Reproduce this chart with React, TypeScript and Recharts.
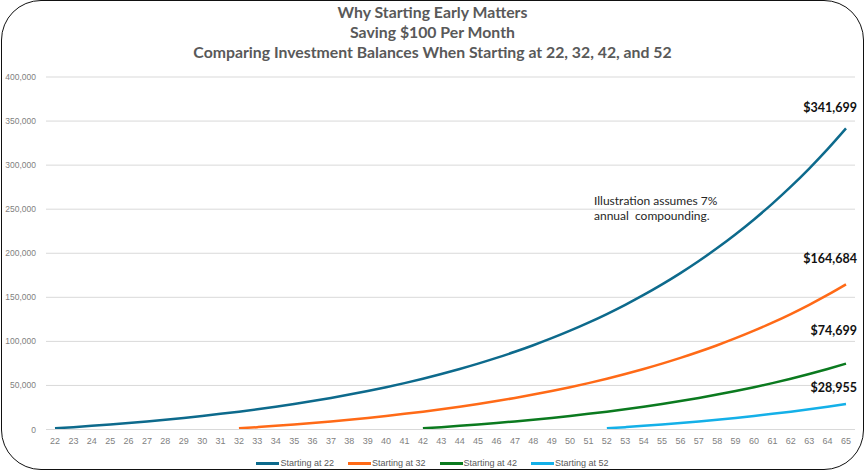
import React from "react";
import { LineChart, Line, XAxis, YAxis, CartesianGrid, Legend } from "recharts";

// Ages shown along the horizontal axis
const ages: number[] = [
  22, 23, 24, 25, 26, 27, 28, 29, 30, 31, 32, 33, 34, 35, 36, 37, 38, 39, 40, 41, 42, 43,
  44, 45, 46, 47, 48, 49, 50, 51, 52, 53, 54, 55, 56, 57, 58, 59, 60, 61, 62, 63, 64, 65,
];

// Year-end balances for each starting age (first entry = first year of saving)
const start22: number[] = [
  1284, 2658, 4128, 5701, 7384, 9185, 11112, 13174, 15380, 17740, 20266, 22969, 25861, 28955,
  32266, 35808, 39599, 43655, 47994, 52638, 57607, 62923, 68612, 74699, 81212, 88181, 95637,
  103616, 112153, 121288, 131062, 141520, 152710, 164684, 177496, 191204, 205874, 221568,
  238363, 256329, 275559, 296132, 318147, 341699,
];
const start32: number[] = [
  1284, 2658, 4128, 5701, 7384, 9185, 11112, 13174, 15380, 17740, 20266, 22969, 25861, 28955,
  32266, 35808, 39599, 43655, 47994, 52638, 57607, 62923, 68612, 74699, 81212, 88181, 95637,
  103616, 112153, 121288, 131062, 141520, 152710, 164684,
];
const start42: number[] = [
  1284, 2658, 4128, 5701, 7384, 9185, 11112, 13174, 15380, 17740, 20266, 22969, 25861, 28955,
  32266, 35808, 39599, 43655, 47994, 52638, 57607, 62923, 68612, 74699,
];
const start52: number[] = [
  1284, 2658, 4128, 5701, 7384, 9185, 11112, 13174, 15380, 17740, 20266, 22969, 25861, 28955,
];

const yTicks: number[] = [0, 50000, 100000, 150000, 200000, 250000, 300000, 350000, 400000];

const titleLines: string[] = [
  "Why Starting Early Matters",
  "Saving $100 Per Month",
  "Comparing Investment Balances When Starting at 22, 32, 42, and 52",
];

const noteLines: string[] = ["Illustration assumes 7%", "annual\u00a0 compounding."];

type SeriesDef = {
  key: string;
  name: string;
  startAge: number;
  values: number[];
  color: string;
  labelDy: number;
};

const series: SeriesDef[] = [
  { key: "s22", name: "Starting at 22", startAge: 22, values: start22, color: "#0d6a8c", labelDy: -16 },
  { key: "s32", name: "Starting at 32", startAge: 32, values: start32, color: "#ff6a17", labelDy: -21 },
  { key: "s42", name: "Starting at 42", startAge: 42, values: start42, color: "#0b7a1f", labelDy: -29 },
  { key: "s52", name: "Starting at 52", startAge: 52, values: start52, color: "#14b0e8", labelDy: -12 },
];

const rows = ages.map((age) => {
  const row: Record<string, number | null> = { age };
  series.forEach((s) => {
    const i = age - s.startAge;
    row[s.key] = i >= 0 && i < s.values.length ? s.values[i] : null;
  });
  return row;
});

const fmt = (v: number) => v.toLocaleString("en-US");

const endLabel = (s: SeriesDef) => (props: any) => {
  const { x, y, index, value } = props;
  if (index !== ages.length - 1 || value == null) return null;
  return (
    <text
      x={x + 11}
      y={y + s.labelDy}
      textAnchor="end"
      fontFamily="Lato, 'Open Sans', sans-serif"
      fontWeight={700}
      fontSize={12.5}
      fill="#111"
    >
      ${fmt(value)}
    </text>
  );
};

const LegendContent = () => (
  <div
    style={{
      display: "flex",
      justifyContent: "center",
      alignItems: "center",
      gap: 14,
      fontFamily: "'Liberation Sans', Arial, sans-serif",
      fontSize: 9,
      color: "#595959",
      height: 14,
      paddingLeft: 10,
    }}
  >
    {series.map((s) => (
      <div key={s.key} style={{ display: "flex", alignItems: "center" }}>
        <span style={{ display: "inline-block", width: 23, height: 3, background: s.color, marginRight: 1 }} />
        <span>{s.name}</span>
      </div>
    ))}
  </div>
);

export default function App() {
  return (
    <div
      style={{
        position: "absolute",
        left: 0,
        top: 0,
        width: 865,
        height: 471,
        background: "#fff",
        overflow: "hidden",
      }}
    >
      <div
        style={{
          position: "absolute",
          left: 0,
          top: 2,
          width: 865,
          textAlign: "center",
          fontFamily: "Lato, 'Open Sans', sans-serif",
          fontWeight: 700,
          fontSize: 15.8,
          lineHeight: "20px",
          color: "#595959",
        }}
      >
        {titleLines.map((t) => (
          <div key={t}>{t}</div>
        ))}
      </div>

      <LineChart
        width={865}
        height={471}
        data={rows}
        margin={{ top: 77, right: 10, bottom: 7.5, left: 0 }}
        style={{ position: "absolute", left: 0, top: 0 }}
      >
        <CartesianGrid vertical={false} stroke="#d9d9d9" strokeWidth={1} />
        <XAxis
          dataKey="age"
          type="category"
          interval={0}
          height={20}
          padding={{ left: 9, right: 9 }}
          tickSize={0}
          tickMargin={8}
          axisLine={{ stroke: "#d9d9d9" }}
          tick={{ fontSize: 9, fill: "#7f7f7f", fontFamily: "'Liberation Sans', Arial, sans-serif" }}
        />
        <YAxis
          width={46}
          domain={[0, 400000]}
          ticks={yTicks}
          tickFormatter={fmt}
          axisLine={false}
          tickLine={false}
          tickSize={0}
          tickMargin={10}
          tick={{ fontSize: 8.5, fill: "#7f7f7f", fontFamily: "'Liberation Sans', Arial, sans-serif" }}
        />
        <Legend
          verticalAlign="bottom"
          content={<LegendContent />}
          wrapperStyle={{ bottom: 1, height: 14 }}
        />
        {series.map((s) => (
          <Line
            key={s.key}
            type="monotone"
            dataKey={s.key}
            name={s.name}
            stroke={s.color}
            strokeWidth={2.5}
            dot={false}
            activeDot={false}
            isAnimationActive={false}
            label={endLabel(s)}
          />
        ))}
      </LineChart>

      <div
        style={{
          position: "absolute",
          left: 594,
          top: 193,
          fontFamily: "Lato, 'Open Sans', sans-serif",
          fontSize: 12,
          lineHeight: "15px",
          color: "#262626",
          whiteSpace: "pre",
        }}
      >
        {noteLines.map((t) => (
          <div key={t}>{t}</div>
        ))}
      </div>

      <div
        style={{
          position: "absolute",
          left: 1,
          top: 0,
          width: 863,
          height: 470,
          boxSizing: "border-box",
          border: "1.5px solid #111",
          borderRadius: 40,
          pointerEvents: "none",
        }}
      />
    </div>
  );
}
